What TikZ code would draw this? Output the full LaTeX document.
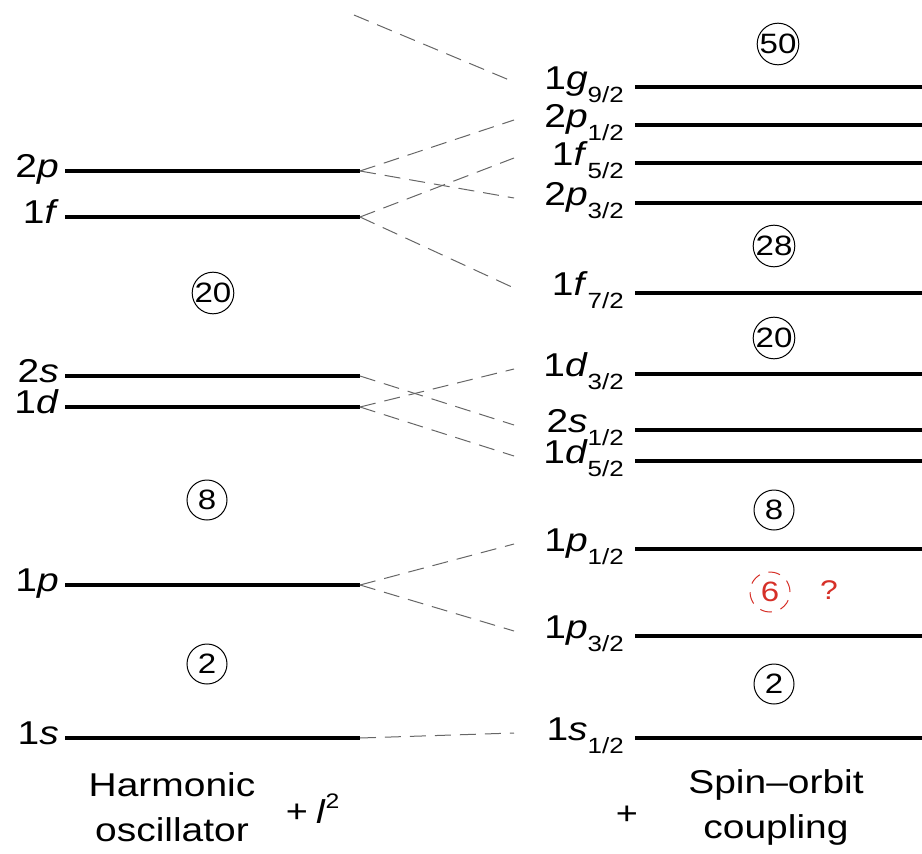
\documentclass[tikz,border=0pt]{standalone}
\usepackage{fontspec}
\setmainfont[FakeStretch=1.18]{Liberation Sans}
\definecolor{qred}{RGB}{214,48,40}
\begin{document}
\begin{tikzpicture}[x=1pt,y=-1pt,lvl/.style={line width=3.2pt},cpl/.style={draw=black!60,line width=1pt,dash pattern=on 16pt off 9pt},tag/.style={inner sep=0pt,font=\fontsize{33}{33}\selectfont},magic/.style={circle,draw,line width=1pt,inner sep=0pt,minimum size=40pt,font=\fontsize{28}{28}\selectfont},caption/.style={align=center,inner sep=0pt,font=\fontsize{33}{45}\selectfont}]
\useasboundingbox (0,0) rectangle (922,854);
\foreach \n/\l/\y in {2/p/171,1/f/217,2/s/376,1/d/407,1/p/585,1/s/738} {\node[tag,anchor=base east] (h\n\l) at (59,\y+6) {\n\textit{\l}}; \coordinate (h\n\l a) at (65,\y); \coordinate (h\n\l b) at (360,\y); \draw[lvl] (h\n\l a) -- (h\n\l b);}
\foreach \n/\l/\j/\y in {1/g/9/87,2/p/1/125,1/f/5/163,2/p/3/203,1/f/7/293,1/d/3/374,2/s/1/430,1/d/5/461,1/p/1/549,1/p/3/636,1/s/1/738} {\node[tag,anchor=base east] (s\n\l\j) at (624,\y+2) {\n\textit{\l}\raisebox{-13pt}{\fontsize{22}{22}\selectfont\j/2}}; \coordinate (s\n\l\j w) at (514,\y-5); \coordinate (s\n\l\j a) at (635,\y); \coordinate (s\n\l\j b) at (922,\y); \draw[lvl] (s\n\l\j a) -- (s\n\l\j b);}
\coordinate (g9top) at (354,15);
\foreach \a/\b in {g9top/s1g9,h2pb/s2p1,h2pb/s2p3,h1fb/s1f5,h1fb/s1f7,h2sb/s2s1,h1db/s1d3,h1db/s1d5,h1pb/s1p1,h1pb/s1p3,h1sb/s1s1} {\draw[cpl] (\a) -- (\b w);}
\foreach \v/\x/\y [count=\k] in {20/213/293,8/207/500,2/207/664,50/778/44,28/774/246,20/774/338,8/774/510,2/774/684} {\node[magic] (m\k) at (\x,\y) {\v};}
\node[magic,draw=qred,text=qred,dash pattern=on 12pt off 9pt] (m6) at (770,592) {6};
\node[text=qred,font=\fontsize{27}{27}\selectfont] (qm) at (829,590) {?};
\node[caption] (ho) at (172,807) {Harmonic\\oscillator};
\node[caption,font=\fontsize{32}{32}\selectfont] (plus1) at (297,813) {+};
\node[caption,anchor=base west] (l2) at (316,823) {\textit{l}\raisebox{15pt}{\fontsize{21}{21}\selectfont 2}};
\node[caption,font=\fontsize{32}{32}\selectfont] (plus2) at (627,815) {+};
\node[caption] (so) at (776,807) {Spin–orbit\\coupling};
\end{tikzpicture}
\end{document}
